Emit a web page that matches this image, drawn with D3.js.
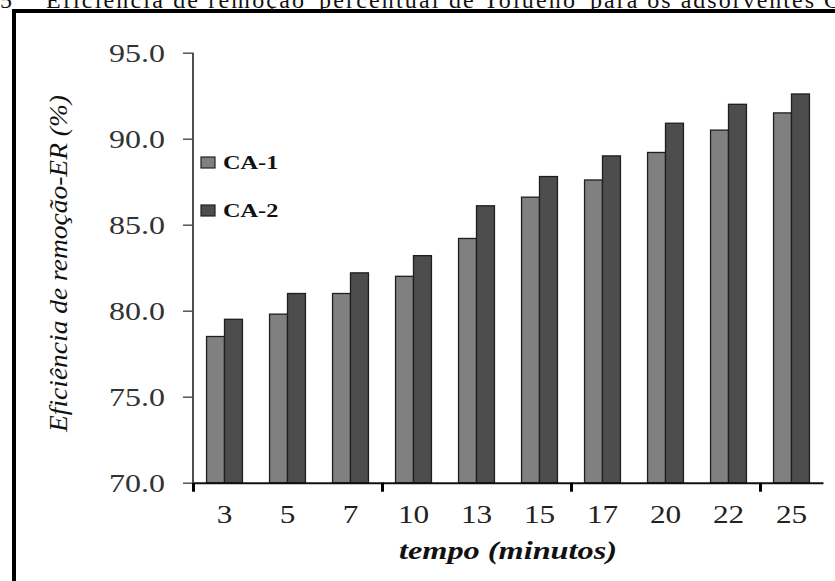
<!DOCTYPE html>
<html>
<head>
<meta charset="utf-8">
<script src="https://cdn.jsdelivr.net/npm/d3@7"></script>
<style>
  body { margin: 0; background: #fff; }
  svg { display: block; }
</style>
</head>
<body>
<div id="chart"></div>
<script>
// data
const tempos = ["3", "5", "7", "10", "13", "15", "17", "20", "22", "25"];
const ca1 = [78.5, 79.8, 81.0, 82.0, 84.2, 86.6, 87.6, 89.2, 90.5, 91.5];
const ca2 = [79.5, 81.0, 82.2, 83.2, 86.1, 87.8, 89.0, 90.9, 92.0, 92.6];
const seriesNames = ["CA-1", "CA-2"];
const yTicks = [70, 75, 80, 85, 90, 95];

const colors = { "CA-1": "#808080", "CA-2": "#4d4d4d" };
const W = 835, H = 581;
const serif = "Liberation Serif";

// the scanned figure is stretched sideways, widen glyphs to match
function widen(sel, k) {
    sel.each(function() {
        const n = this.getComputedTextLength();
        d3.select(this).attr("textLength", n * k).attr("lengthAdjust", "spacingAndGlyphs");
    });
}

const svg = d3.select("#chart").append("svg")
    .attr("width", W).attr("height", H);

// caption (cut at top of page, as in the figure)
const cap = svg.append("text")
    .attr("y", 8)
    .attr("font-family", serif).attr("font-size", 24).attr("fill", "#111");
cap.append("tspan").attr("x", 0).text("5");
cap.append("tspan").attr("x", 46).attr("textLength", 258).text("Eficiência de remoção");
cap.append("tspan").attr("x", 319).attr("textLength", 256).text("percentual de Tolueno");
cap.append("tspan").attr("x", 590).attr("textLength", 250).text("para os adsorventes C");

// frame
svg.append("path")
    .attr("d", `M14,${H + 5} L14,11 L${W + 5},11`)
    .attr("fill", "none").attr("stroke", "#000").attr("stroke-width", 4);

// scales
const x0 = d3.scaleBand().domain(tempos).range([193, 823])
    .paddingInner(0.43).paddingOuter(0.215);
const x1 = d3.scaleBand().domain(seriesNames).range([0, x0.bandwidth()]);
const y = d3.scaleLinear().domain([70, 95]).range([482.7, 52.7]);

const rows = tempos.map((t, i) => ({ t, vals: [
    { s: "CA-1", v: ca1[i] }, { s: "CA-2", v: ca2[i] }
]}));

// bars
const g = svg.append("g");
g.selectAll("g.grp").data(rows).join("g")
    .attr("class", "grp")
    .attr("transform", d => `translate(${x0(d.t)},0)`)
  .selectAll("rect").data(d => d.vals).join("rect")
    .attr("x", d => x1(d.s))
    .attr("width", x1.bandwidth())
    .attr("y", d => y(d.v))
    .attr("height", d => y(70) - y(d.v))
    .attr("fill", d => colors[d.s])
    .attr("stroke", "#1e1e1e").attr("stroke-width", 1.3);

// y axis
const yAxis = svg.append("g").attr("transform", "translate(193,0)")
    .call(d3.axisLeft(y).tickValues(yTicks).tickFormat(d3.format(".1f")).tickSize(10).tickPadding(0));
yAxis.attr("font-family", null).attr("font-size", null);
yAxis.select(".domain").attr("stroke", "#222").attr("stroke-width", 1.6)
    .attr("d", `M0,${y(95)}V${y(70)}`);
yAxis.selectAll(".tick line").attr("stroke", "#555").attr("stroke-width", 1.5);
yAxis.selectAll(".tick text")
    .attr("x", -28).attr("dy", "0.34em")
    .attr("font-family", serif).attr("font-size", 25)
    .attr("fill", "#333")
    .call(widen, 1.28);

// x axis: line + boundary ticks every 3 categories
const xIdx = d3.scaleLinear().domain([0, tempos.length]).range([193, 823]);
const xAxis = svg.append("g").attr("transform", `translate(0,${y(70)})`)
    .call(d3.axisBottom(xIdx).tickValues([0, 3, 6, 9]).tickFormat("").tickSize(9).tickSizeOuter(0));
xAxis.select(".domain").attr("stroke", "#111").attr("stroke-width", 2);
xAxis.selectAll(".tick line").attr("stroke", "#000").attr("stroke-width", 3);

// x labels
const xLab = svg.append("g").attr("transform", `translate(0,${y(70)})`)
    .call(d3.axisBottom(x0).tickSize(0).tickPadding(0));
xLab.attr("font-family", null).attr("font-size", null);
xLab.select(".domain").remove();
xLab.selectAll(".tick text")
    .attr("y", 40).attr("dy", 0)
    .attr("font-family", serif).attr("font-size", 25)
    .attr("fill", "#222")
    .call(widen, 1.25);

// axis titles
svg.append("text")
    .attr("x", 508).attr("y", 559)
    .attr("text-anchor", "middle")
    .attr("textLength", 218).attr("lengthAdjust", "spacingAndGlyphs")
    .attr("font-family", serif).attr("font-size", 25)
    .attr("font-weight", "bold").attr("font-style", "italic")
    .attr("fill", "#111")
    .text("tempo (minutos)");

svg.append("text")
    .attr("transform", "translate(67,263.5) rotate(-90)")
    .attr("text-anchor", "middle")
    .attr("textLength", 337).attr("lengthAdjust", "spacingAndGlyphs")
    .attr("font-family", serif).attr("font-size", 25)
    .attr("font-style", "italic")
    .attr("fill", "#111")
    .text("Eficiência de remoção-ER (%)");

// legend
const leg = svg.append("g").selectAll("g").data(seriesNames).join("g")
    .attr("transform", (d, i) => `translate(201,${157 + i * 48})`);
leg.append("rect")
    .attr("width", 14).attr("height", 11)
    .attr("fill", d => colors[d]).attr("stroke", "#222").attr("stroke-width", 1.2);
leg.append("text")
    .attr("x", 22).attr("y", 12)
    .attr("font-family", serif).attr("font-size", 18)
    .attr("font-weight", "bold")
    .attr("fill", "#111")
    .text(d => d)
    .call(widen, 1.35);
</script>
</body>
</html>
